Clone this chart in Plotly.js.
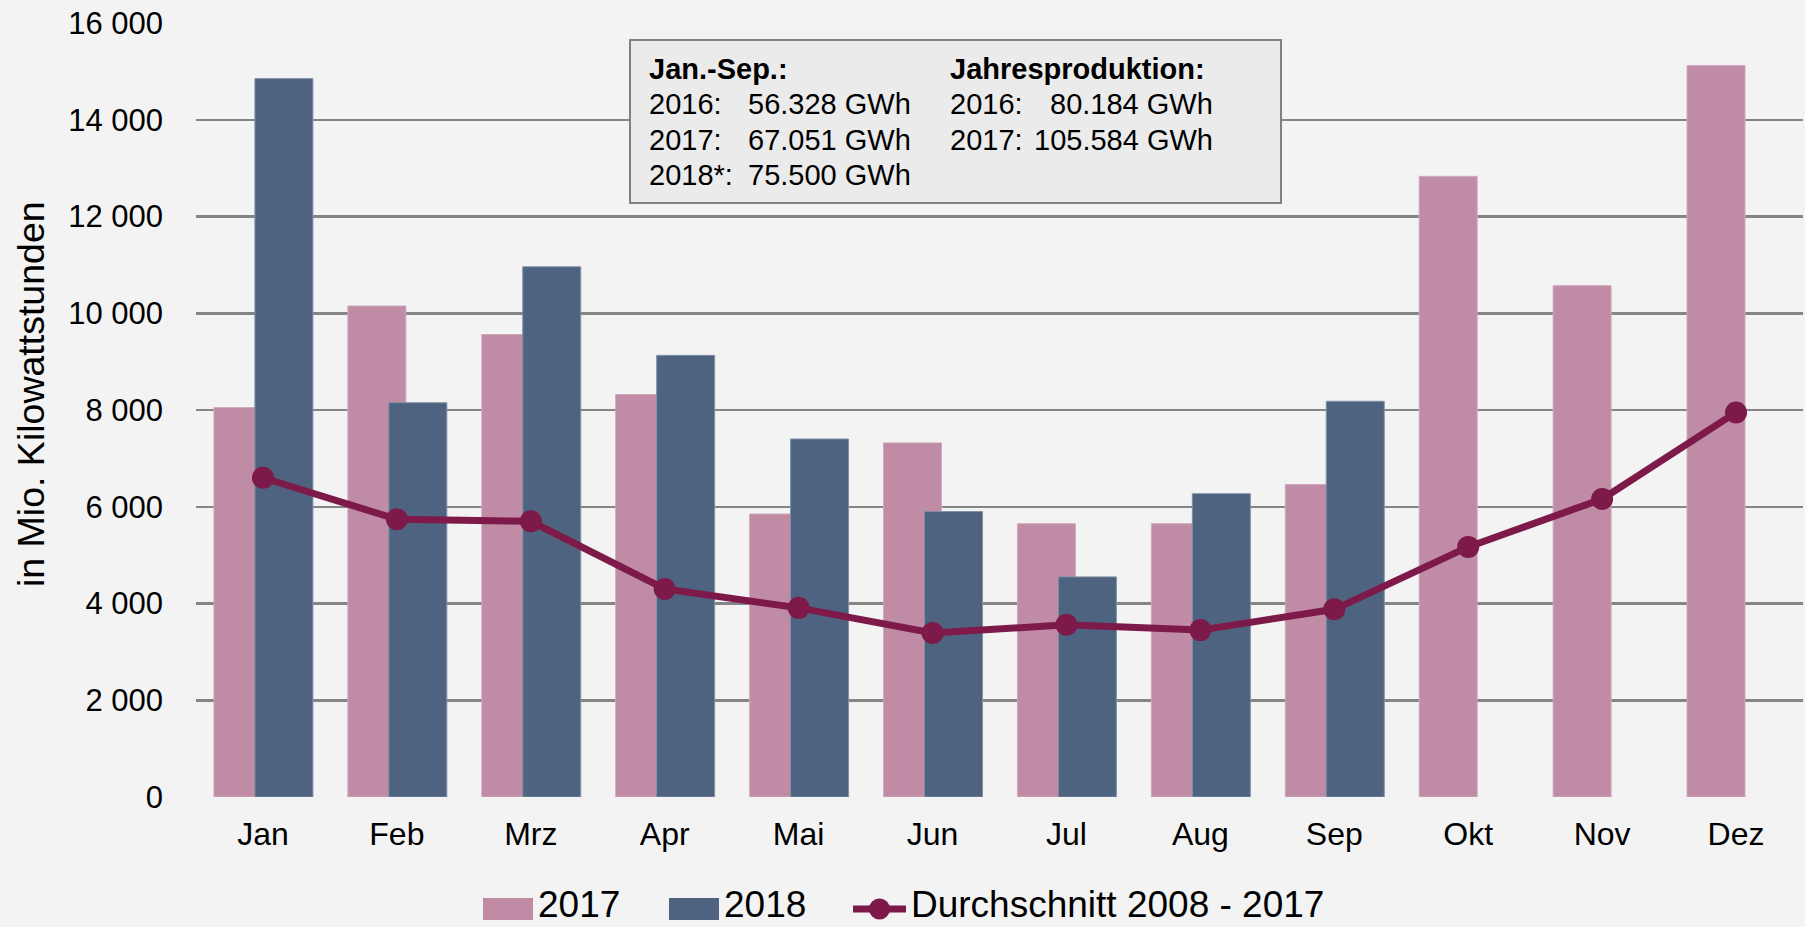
<!DOCTYPE html>
<html>
<head>
    <script src="https://cdn.plot.ly/plotly-3.0.1.min.js"></script>
    <style>
        body { margin: 0; background: #f3f3f3; }
    </style>
</head>
<body>
    <div id="chart" style="width: 1805px; height: 927px;"></div>
    <script>
        // Monatswerte in Mio. kWh
        var months = ['Jan', 'Feb', 'Mrz', 'Apr', 'Mai', 'Jun', 'Jul', 'Aug', 'Sep', 'Okt', 'Nov', 'Dez'];
        var werte2017 = [8050, 10150, 9560, 8320, 5850, 7320, 5650, 5650, 6460, 12830, 10570, 15120];
        var werte2018 = [14850, 8150, 10960, 9130, 7400, 5900, 4550, 6270, 8180];
        var durchschnitt = [6600, 5740, 5700, 4300, 3910, 3390, 3560, 3450, 3880, 5170, 6160, 7950];
        var yTicks = [0, 2000, 4000, 6000, 8000, 10000, 12000, 14000, 16000];
        var yTickText = ['0', '2 000', '4 000', '6 000', '8 000', '10 000', '12 000', '14 000', '16 000'];
        var seriesNames = ['2017', '2018', 'Durchschnitt 2008 - 2017'];
        var seriesColors = ['#bf8ba5', '#4e637f', '#7d1a4a'];
        var yTitle = 'in Mio. Kilowattstunden';

        // Infobox
        var boxHeader = ['Jan.-Sep.:', 'Jahresproduktion:'];
        var boxLabels1 = ['2016:', '2017:', '2018*:'];
        var boxValues1 = ['56.328 GWh', '67.051 GWh', '75.500 GWh'];
        var boxLabels2 = ['2016:', '2017:'];
        var boxValues2 = ['80.184 GWh', '105.584 GWh'];

        // Plotbereich in Pixeln
        var L = 196, R = 1803, T = 23, B = 797;
        function px(x) { return (x - L) / (R - L); }
        function py(y) { return (B - y) / (B - T); }

        var font = 'Liberation Sans, Arial, sans-serif';

        var data = [{
            x: months,
            y: werte2017,
            name: seriesNames[0],
            type: 'bar',
            width: 0.433,
            offset: -0.366,
            marker: { color: seriesColors[0], line: { color: '#cfa9bc', width: 1 } }
        }, {
            x: months.slice(0, werte2018.length),
            y: werte2018,
            name: seriesNames[1],
            type: 'bar',
            width: 0.433,
            offset: -0.06,
            marker: { color: seriesColors[1], line: { color: '#8090a6', width: 1 } }
        }, {
            x: months,
            y: durchschnitt,
            name: seriesNames[2],
            type: 'scatter',
            mode: 'lines+markers',
            line: { color: seriesColors[2], width: 7 },
            marker: { color: seriesColors[2], size: 22 }
        }];

        var annotations = [];
        var rowY = [69, 104, 140, 175];
        annotations.push({ text: '<b>' + boxHeader[0] + '</b>', x: px(647), y: py(rowY[0]) });
        annotations.push({ text: '<b>' + boxHeader[1] + '</b>', x: px(948), y: py(rowY[0]) });
        for (var i = 0; i < boxLabels1.length; i++) {
            annotations.push({ text: boxLabels1[i], x: px(647), y: py(rowY[i + 1]) });
            annotations.push({ text: boxValues1[i], x: px(746), y: py(rowY[i + 1]) });
        }
        for (var j = 0; j < boxLabels2.length; j++) {
            annotations.push({ text: boxLabels2[j], x: px(948), y: py(rowY[j + 1]) });
            annotations.push({ text: boxValues2[j], x: px(1215), y: py(rowY[j + 1]), xanchor: 'right' });
        }
        annotations.forEach(function (a) {
            a.font = { family: font, size: 29, color: '#000' };
            a.yanchor = 'middle';
        });

        // Legende unter dem Diagramm
        var legY = 909;
        var legTextX = [537, 723, 910];
        for (var k = 0; k < seriesNames.length; k++) {
            annotations.push({
                text: seriesNames[k], x: px(legTextX[k]), y: py(926),
                yanchor: 'bottom', borderpad: 0,
                font: { family: font, size: 37, color: '#000' }
            });
        }

        // y-Achsentitel
        annotations.push({
            text: yTitle, x: px(31), y: py(394),
            xanchor: 'center', yanchor: 'middle', textangle: -90,
            font: { family: font, size: 37.5, color: '#000' }
        });

        annotations.forEach(function (a) {
            a.xref = 'paper';
            a.yref = 'paper';
            a.showarrow = false;
            if (!a.xanchor) a.xanchor = 'left';
        });

        var shapes = [{
            type: 'rect',
            xref: 'paper', yref: 'paper',
            x0: px(630), x1: px(1281), y0: py(203), y1: py(40),
            fillcolor: '#ebebeb',
            line: { color: '#808080', width: 2 },
            layer: 'above'
        }, {
            type: 'rect',
            xref: 'paper', yref: 'paper',
            x0: px(483), x1: px(533), y0: py(920), y1: py(898),
            fillcolor: seriesColors[0], line: { width: 0 }
        }, {
            type: 'rect',
            xref: 'paper', yref: 'paper',
            x0: px(669), x1: px(719), y0: py(920), y1: py(898),
            fillcolor: seriesColors[1], line: { width: 0 }
        }, {
            type: 'line',
            xref: 'paper', yref: 'paper',
            x0: px(853), x1: px(906), y0: py(legY), y1: py(legY),
            line: { color: seriesColors[2], width: 7 }
        }, {
            type: 'circle',
            xref: 'paper', yref: 'paper',
            x0: px(869), x1: px(890), y0: py(legY + 10.5), y1: py(legY - 10.5),
            fillcolor: seriesColors[2], line: { width: 0 }
        }];

        var layout = {
            width: 1805,
            height: 927,
            paper_bgcolor: '#f3f3f3',
            plot_bgcolor: '#f3f3f3',
            barmode: 'overlay',
            showlegend: false,
            margin: { l: L, r: 1805 - R, t: T, b: 927 - B },
            font: { family: font, size: 29, color: '#000' },
            xaxis: {
                type: 'category',
                range: [-0.5, 11.5],
                showgrid: false,
                zeroline: false,
                showline: false,
                ticks: '',
                ticklabelstandoff: 15,
                tickfont: { family: font, size: 32, color: '#000' }
            },
            yaxis: {
                range: [0, 16000],
                tickvals: yTicks,
                ticktext: yTickText,
                showgrid: true,
                gridcolor: '#858585',
                gridwidth: 2.5,
                zeroline: false,
                showline: false,
                ticks: '',
                ticklabelstandoff: 32,
                tickfont: { family: font, size: 31, color: '#000' }
            },
            shapes: shapes,
            annotations: annotations
        };

        var config = {
            displayModeBar: false,
            staticPlot: true
        };

        Plotly.newPlot('chart', data, layout, config);
    </script>
</body>
</html>
